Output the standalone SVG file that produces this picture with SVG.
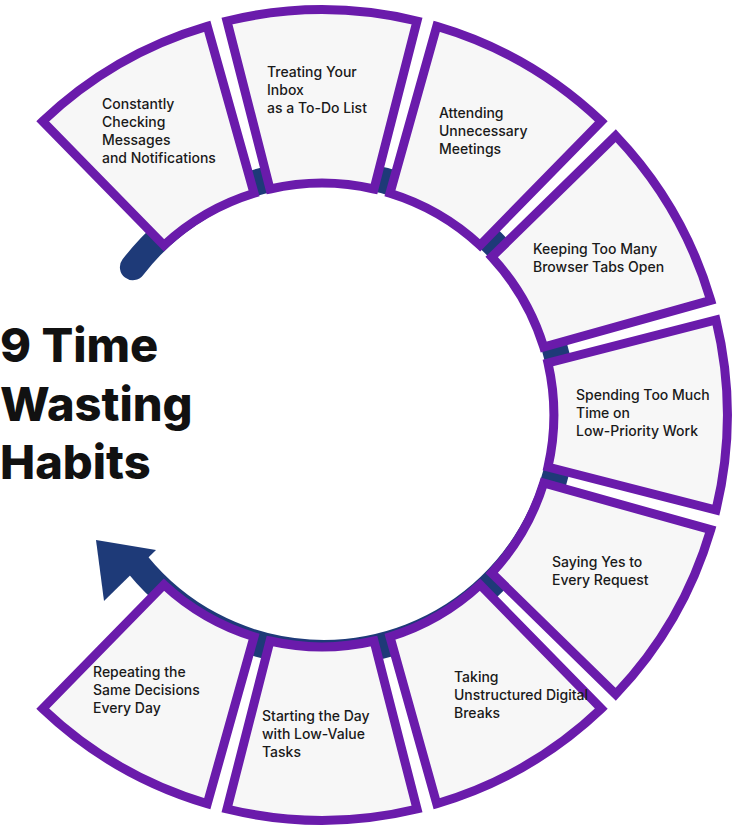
<svg xmlns="http://www.w3.org/2000/svg" width="732" height="828" viewBox="0 0 732 828">
<style>
.seg{fill:#f7f7f7;stroke:#6a1bab;stroke-width:9;stroke-linejoin:miter}
.t{font-family:Inter,"Liberation Sans",sans-serif;font-size:14px;fill:#1a1a1a;font-weight:500}
.h{font-family:Inter,"Liberation Sans",sans-serif;font-size:47px;font-weight:800;fill:#111}
</style>
<defs>
<path id="s" class="seg" d="M270,189 A234,234 0 0 1 374,189 L417,21 A405,405 0 0 0 227,21 Z"/>
</defs>
<rect width="732" height="828" fill="#fff"/>
<g id="connectors">
<path d="M132.9,267.2 A240,240 0 1 1 138,565" fill="none" stroke="#1e3a78" stroke-width="26" stroke-linecap="round"/>
<polygon points="96,540 156,550 104,601" fill="#1e3a78"/>
</g>
<g id="n1"><use href="#s" transform="rotate(-30 322 415)"/><text class="t" x="102" y="109">Constantly</text><text class="t" x="102" y="127">Checking</text><text class="t" x="102" y="145">Messages</text><text class="t" x="102" y="163">and Notifications</text></g>
<g id="n2"><use href="#s"/><text class="t" x="267" y="77">Treating Your</text><text class="t" x="267" y="95"> Inbox</text><text class="t" x="267" y="113">as a To-Do List</text></g>
<g id="n3"><use href="#s" transform="rotate(30 322 415)"/><text class="t" x="439" y="118">Attending</text><text class="t" x="439" y="136">Unnecessary</text><text class="t" x="439" y="154">Meetings</text></g>
<g id="n4"><use href="#s" transform="rotate(60 322 415)"/><text class="t" x="533" y="254">Keeping Too Many</text><text class="t" x="533" y="272">Browser Tabs Open</text></g>
<g id="n5"><use href="#s" transform="rotate(90 322 415)"/><text class="t" x="576" y="400">Spending Too Much</text><text class="t" x="576" y="418">Time on</text><text class="t" x="576" y="436">Low-Priority Work</text></g>
<g id="n6"><use href="#s" transform="rotate(120 322 415)"/><text class="t" x="552" y="567">Saying Yes to</text><text class="t" x="552" y="585">Every Request</text></g>
<g id="n7"><use href="#s" transform="rotate(150 322 415)"/><text class="t" x="454" y="682">Taking</text><text class="t" x="454" y="700">Unstructured Digital</text><text class="t" x="454" y="718">Breaks</text></g>
<g id="n8"><use href="#s" transform="rotate(180 322 415)"/><text class="t" x="262" y="721">Starting the Day</text><text class="t" x="262" y="739">with Low-Value</text><text class="t" x="262" y="757">Tasks</text></g>
<g id="n9"><use href="#s" transform="rotate(210 322 415)"/><text class="t" x="93" y="677">Repeating the</text><text class="t" x="93" y="695">Same Decisions</text><text class="t" x="93" y="713">Every Day</text></g>
<g id="title"><text class="h" x="0" y="362">9 Time</text><text class="h" x="0" y="421">Wasting</text><text class="h" x="0" y="479">Habits</text></g>
</svg>
